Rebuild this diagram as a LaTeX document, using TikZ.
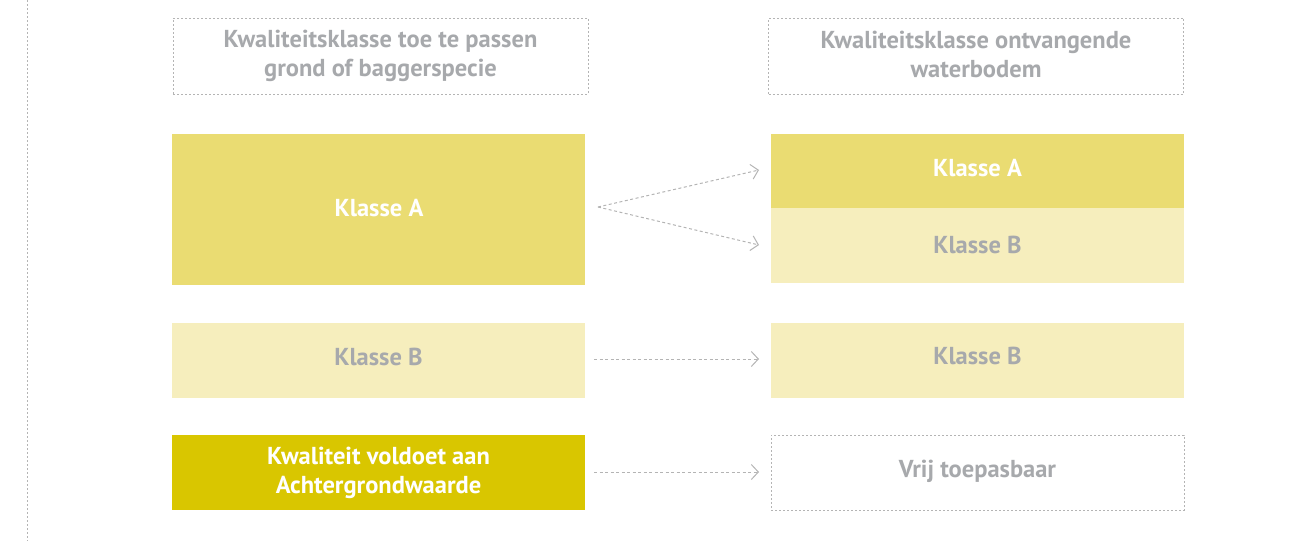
\documentclass[tikz,border=0pt]{standalone}
\usepackage{fontspec}
\setmainfont{PT Sans}
\usetikzlibrary{arrows.meta}
\definecolor{ya}{HTML}{EADC72}
\definecolor{yb}{HTML}{F6EEBD}
\definecolor{yc}{HTML}{D9C600}
\definecolor{gtext}{HTML}{A7A9AC}
\definecolor{gline}{HTML}{B4B4B4}
\begin{document}
\begin{tikzpicture}[x=1pt,y=-1pt,
  lbl/.style={font=\bfseries\fontsize{24.5}{29}\selectfont, align=center, inner sep=0pt},
  box/.style={inner sep=0pt, minimum width=413pt, minimum height=75pt},
  dashbox/.style={draw=gline, dash pattern=on 2pt off 2pt, line width=0.8pt},
  conn/.style={draw=gline, line width=1pt, dash pattern=on 3pt off 2.5pt, -{Straight Barb[length=7pt,width=15pt,line width=1pt]}}
]
\useasboundingbox (0,0) rectangle (1303,541);
\coordinate (vt) at (27,0);
\coordinate (vb) at (27,541);
\draw[gline, line width=0.8pt, dash pattern=on 2pt off 2pt] (vt) -- (vb);

\node[box, dashbox, minimum width=415pt, minimum height=76pt] (h1) at (380.5,56) {};
\node[box, dashbox, minimum width=415pt, minimum height=76pt] (h2) at (976,56) {};
\node[box, fill=ya, minimum height=151pt] (la) at (378.5,209.5) {};
\node[box, fill=yb] (lb) at (378.5,360.5) {};
\node[box, fill=yc] (lc) at (378.5,472.5) {};
\node[box, fill=ya, minimum height=74pt] (ra) at (977.5,171) {};
\node[box, fill=yb, minimum height=75pt] (rb) at (977.5,245.5) {};
\node[box, fill=yb] (rb2) at (977.5,360.5) {};
\node[box, dashbox] (rc) at (977.5,472.5) {};

\node[lbl, text=gtext] (h1t) at (380.5,55.5) {Kwaliteitsklasse toe te passen\\grond of baggerspecie};
\node[lbl, text=gtext] (h2t) at (976,54) {Kwaliteitsklasse ontvangende\\waterbodem};
\node[lbl, text=white] (lat) at (379,208.5) {Klasse A};
\node[lbl, text=gtext] (lbt) at (378.5,356.5) {Klasse B};
\node[lbl, text=white] (lct) at (378.5,472.5) {Kwaliteit voldoet aan\\Achtergrondwaarde};
\node[lbl, text=white] (rat) at (977.5,168.5) {Klasse A};
\node[lbl, text=gtext] (rbt) at (977.5,245) {Klasse B};
\node[lbl, text=gtext] (rb2t) at (977.5,355.5) {Klasse B};
\node[lbl, text=gtext] (rct) at (977.5,471.5) {Vrij toepasbaar};

\coordinate (s1) at (598,207);
\coordinate (e1) at (759,170);
\coordinate (e2) at (759,245);
\coordinate (s3) at (594,359);
\coordinate (e3) at (759,359);
\coordinate (s4) at (594,472);
\coordinate (e4) at (759,472);
\draw[conn] (s1) -- (e1);
\draw[conn] (s1) -- (e2);
\draw[conn] (s3) -- (e3);
\draw[conn] (s4) -- (e4);
\end{tikzpicture}
\end{document}
